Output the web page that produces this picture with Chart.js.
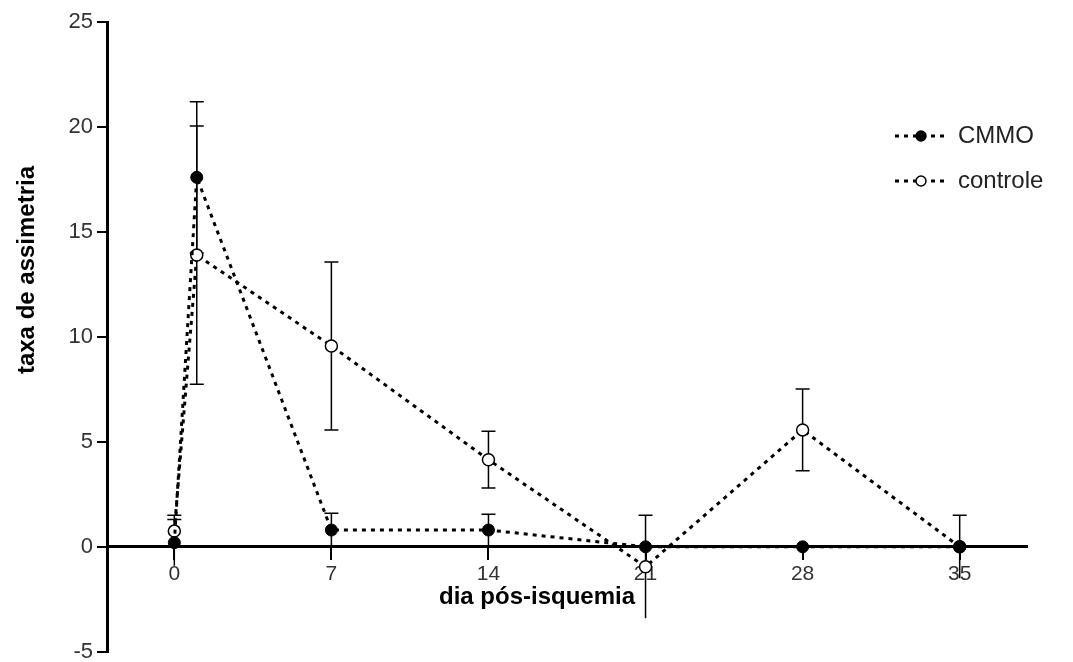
<!DOCTYPE html>
<html>
<head>
<meta charset="utf-8">
<script src="https://cdn.jsdelivr.net/npm/chart.js@4.4.0/dist/chart.umd.min.js"></script>
<style>
  html, body { margin: 0; padding: 0; background: #fff; overflow: hidden; }
  canvas { display: block; }
</style>
</head>
<body>
<canvas id="grafico" width="1073" height="669"></canvas>
<script>
// dias pós-isquemia e médias (± erro)
const dias = [0, 1, 7, 14, 21, 28, 35];
const cmmo = [0.2, 17.6, 0.8, 0.8, 0, 0, 0];
const erroCmmo = [1.1, 3.6, 0.8, 0.75, 0, 0, 1.5];
const controle = [0.75, 13.9, 9.57, 4.15, -0.95, 5.57, 0];
const erroControle = [0.75, 6.15, 4.0, 1.35, 2.45, 1.95, 0];
const ticksX = [0, 7, 14, 21, 28, 35];
const ticksY = [-5, 0, 5, 10, 15, 20, 25];

const pontos = (valores) => dias.map((d, i) => ({ x: d, y: valores[i] }));

// barras de erro (desenhadas antes dos pontos)
const barrasErro = {
	id: 'barrasErro',
	beforeDatasetsDraw(chart) {
		const { ctx, scales: { x, y } } = chart;
		ctx.save();
		ctx.strokeStyle = '#000';
		ctx.lineWidth = 1.5;
		chart.data.datasets.forEach(ds => {
			ds.data.forEach((p, i) => {
				const e = ds.erros[i];
				if (!e) return;
				const px = x.getPixelForValue(p.x);
				const topo = y.getPixelForValue(p.y + e);
				const base = y.getPixelForValue(p.y - e);
				ctx.beginPath();
				ctx.moveTo(px, topo);
				ctx.lineTo(px, base);
				ctx.moveTo(px - 7, topo);
				ctx.lineTo(px + 7, topo);
				if (p.y - e > 0) {
					ctx.moveTo(px - 7, base);
					ctx.lineTo(px + 7, base);
				}
				ctx.stroke();
			});
		});
		ctx.restore();
	}
};

// legenda no canto superior direito
const legenda = {
	id: 'legenda',
	afterDraw(chart) {
		const { ctx, chartArea } = chart;
		chart.data.datasets.forEach((ds, i) => {
			const x0 = chartArea.right - 132;
			const yy = chartArea.top + 114 + i * 45;
			ctx.save();
			ctx.strokeStyle = '#000';
			ctx.lineWidth = 3;
			ctx.setLineDash(ds.borderDash);
			ctx.beginPath();
			ctx.moveTo(x0, yy);
			ctx.lineTo(x0 + 50, yy);
			ctx.stroke();
			ctx.setLineDash([]);
			ctx.beginPath();
			ctx.arc(x0 + 26, yy, 5, 0, 2 * Math.PI);
			ctx.fillStyle = ds.pointBackgroundColor;
			ctx.fill();
			ctx.lineWidth = 1.5;
			ctx.stroke();
			ctx.font = '24px "Liberation Sans"';
			ctx.fillStyle = '#222';
			ctx.textBaseline = 'middle';
			ctx.fillText(ds.label, x0 + 63, yy);
			ctx.restore();
		});
	}
};

// títulos dos eixos
const titulos = {
	id: 'titulos',
	afterDraw(chart) {
		const { ctx, chartArea, scales: { y } } = chart;
		ctx.save();
		ctx.font = 'bold 24px "Liberation Sans"';
		ctx.fillStyle = '#000';
		ctx.textAlign = 'center';
		ctx.textBaseline = 'middle';
		ctx.fillText('dia pós-isquemia', chartArea.left + 430, y.getPixelForValue(0) + 51);
		ctx.translate(27, chartArea.top + 248);
		ctx.rotate(-Math.PI / 2);
		ctx.fillText('taxa de assimetria', 0, 0);
		ctx.restore();
	}
};

const fonteX = { family: 'Liberation Sans', size: 21 };
const fonteY = { family: 'Liberation Sans', size: 22 };

new Chart(document.getElementById('grafico'), {
	type: 'line',
	data: {
		datasets: [
			{
				label: 'CMMO',
				data: pontos(cmmo),
				erros: erroCmmo,
				borderColor: '#000',
				borderWidth: 3,
				borderDash: [4, 5],
				pointRadius: 6,
				pointBackgroundColor: '#000',
				pointBorderColor: '#000',
				pointBorderWidth: 1,
				tension: 0,
				fill: false
			},
			{
				label: 'controle',
				data: pontos(controle),
				erros: erroControle,
				borderColor: '#000',
				borderWidth: 3,
				borderDash: [4, 5],
				pointRadius: 6,
				pointBackgroundColor: '#fff',
				pointBorderColor: '#000',
				pointBorderWidth: 1.5,
				tension: 0,
				fill: false
			}
		]
	},
	options: {
		responsive: false,
		animation: false,
		layout: { padding: { top: 22, right: 46, bottom: 0, left: 0 } },
		plugins: { legend: { display: false }, tooltip: { enabled: false } },
		scales: {
			x: {
				type: 'linear',
				min: -3,
				max: 38,
				position: { y: 0 },
				afterBuildTicks: s => { s.ticks = ticksX.map(v => ({ value: v })); },
				grid: { drawOnChartArea: false, drawTicks: true, tickLength: 12, color: '#000', lineWidth: 2 },
				border: { color: '#000', width: 3 },
				ticks: { font: fonteX, color: '#333', padding: 3, maxRotation: 0, autoSkip: false }
			},
			y: {
				min: -5,
				max: 25,
				afterBuildTicks: s => { s.ticks = ticksY.map(v => ({ value: v })); },
				afterFit: s => { s.width = 107; },
				grid: { drawOnChartArea: false, drawTicks: true, tickLength: 10, color: '#000', lineWidth: 2 },
				border: { color: '#000', width: 3 },
				ticks: { font: fonteY, color: '#333', padding: 4, autoSkip: false }
			}
		}
	},
	plugins: [barrasErro, legenda, titulos]
});
</script>
</body>
</html>
